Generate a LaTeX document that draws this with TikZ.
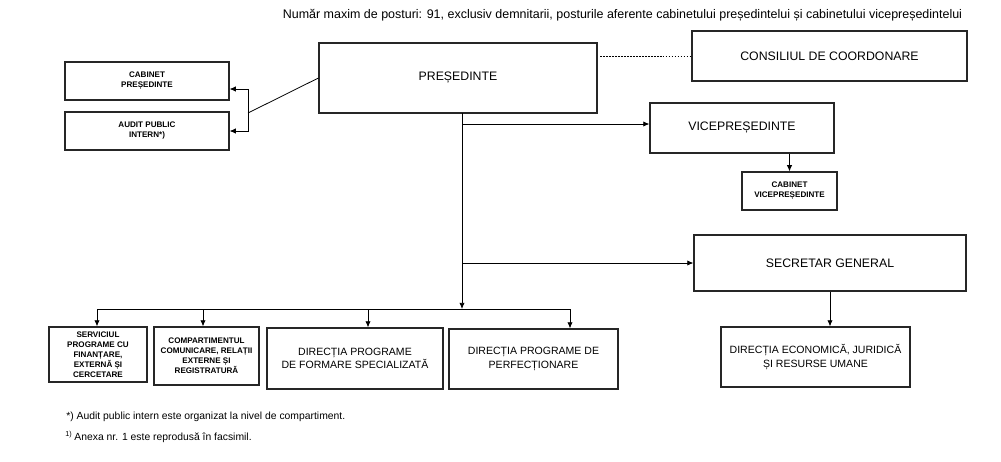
\documentclass[tikz,border=0pt]{standalone}
\usepackage{fontspec}
\setmainfont{Liberation Sans}
\usetikzlibrary{arrows.meta,calc}
\tikzstyle{box}=[draw=black!85, line width=0.7pt, align=center, inner sep=1pt]
\tikzstyle{bigbox}=[box, font=\fontsize{7}{8.4}\selectfont]
\tikzstyle{dirbox}=[box, font=\fontsize{6}{7.6}\selectfont]
\tikzstyle{smallbox}=[box, font=\bfseries\fontsize{4.6}{5.7}\selectfont]
\tikzstyle{note}=[anchor=west, inner sep=0pt, font=\fontsize{5.9}{7}\selectfont]
\tikzstyle{wire}=[line width=0.45pt]
\tikzstyle{link}=[wire, -{Latex[length=3.5pt,width=3pt]}]

\begin{document}
\begin{tikzpicture}[x=0.02cm,y=-0.02cm]
\useasboundingbox (0,0) rectangle (1001,461);
% boxes
\node[bigbox, minimum width=5.56cm, minimum height=1.40cm] (pres) at (458,78) {PREȘEDINTE};
\node[bigbox, minimum width=5.50cm, minimum height=1.00cm] (cons) at (829.5,56) {CONSILIUL DE COORDONARE};
\node[bigbox, minimum width=3.68cm, minimum height=1.00cm] (vice) at (742,128) {VICEPREȘEDINTE};
\node[bigbox, minimum width=5.44cm, minimum height=1.12cm] (sg) at (830,263) {SECRETAR GENERAL};
\node[smallbox, minimum width=3.28cm, minimum height=0.76cm] (cabp) at (147,81) {CABINET\\PREȘEDINTE};
\node[smallbox, minimum width=3.28cm, minimum height=0.76cm] (audit) at (147,131) {AUDIT PUBLIC\\INTERN*)};
\node[smallbox, minimum width=1.90cm, minimum height=0.76cm] (cabv) at (789.5,191) {CABINET\\VICEPREȘEDINTE};
\node[smallbox, minimum width=1.96cm, minimum height=1.10cm] (serv) at (98,354.5) {SERVICIUL\\PROGRAME CU\\FINANȚARE,\\EXTERNĂ ȘI\\CERCETARE};
\node[smallbox, minimum width=2.10cm, minimum height=1.16cm] (comp) at (206.5,356) {COMPARTIMENTUL\\COMUNICARE, RELAȚII\\EXTERNE ȘI\\REGISTRATURĂ};
\node[dirbox, minimum width=3.52cm, minimum height=1.22cm] (form) at (355,358.5) {DIRECȚIA PROGRAME\\DE FORMARE SPECIALIZATĂ};
\node[dirbox, minimum width=3.38cm, minimum height=1.20cm] (perf) at (533.5,359) {DIRECȚIA PROGRAME DE\\PERFECȚIONARE};
\node[dirbox, minimum width=3.78cm, minimum height=1.20cm] (econ) at (815.5,357) {DIRECȚIA ECONOMICĂ, JURIDICĂ\\ȘI RESURSE UMANE};
% texts
\node[font=\fontsize{7.1}{8.4}\selectfont] (title) at (622.5,15) {Număr maxim de posturi: 91, exclusiv demnitarii, posturile aferente cabinetului președintelui și cabinetului vicepreședintelui};
\node[note] (note1) at (66,417) {*) Audit public intern este organizat la nivel de compartiment.};
\node[note] (note2) at (65,437) {\textsuperscript{1)}\,Anexa nr. 1 este reprodusă în facsimil.};
% connectors
\coordinate (k) at (248,113);
\coordinate (ka) at (248,89);
\coordinate (kb) at (248,131);
\coordinate (t0) at (462,113);
\coordinate (t1) at (462,124);
\coordinate (t2) at (462,263);
\coordinate (d0) at (600,56);
\foreach \x/\n in {97/b1,203/b2,368/b3,570/b4} {
	\coordinate (\n) at (\x,309);
}
\draw[wire] (pres.west) -- (k);
\draw[link] (k) -- (ka) -- (ka -| cabp.east);
\draw[link] (k) -- (kb) -- (kb -| audit.east);
\draw[wire, dash pattern=on 1pt off 0.7pt] (d0) -- (cons.west);
\draw[link] (t0) -- (t0 |- b1);
\draw[link] (t1) -- (t1 -| vice.west);
\draw[link] (t2) -- (t2 -| sg.west);
\draw[link] (cabv.north |- vice.south) -- (cabv.north);
\draw[link] (sg.south) -- (sg.south |- econ.north);
\draw[wire] (b1) -- (b4);
\foreach \n/\m in {b1/serv,b2/comp,b3/form,b4/perf} {
	\draw[link] (\n) -- (\n |- \m.north);
}
\end{tikzpicture}
\end{document}
